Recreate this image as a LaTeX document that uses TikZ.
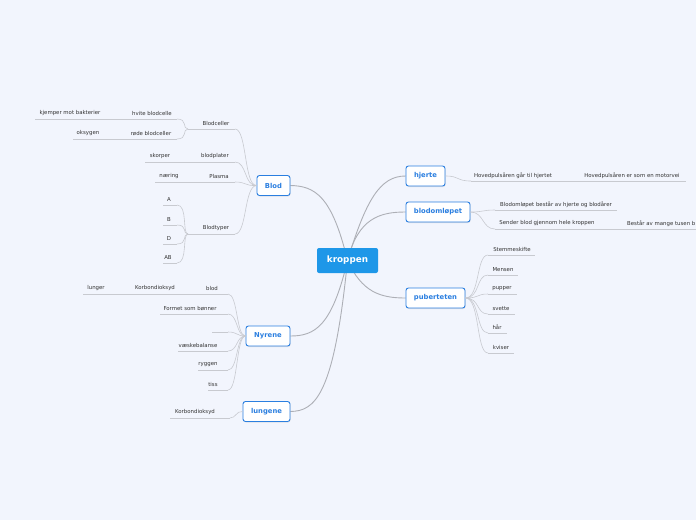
\documentclass[tikz,border=0pt]{standalone}
\usepackage{fontspec}
\setmainfont{DejaVu Sans}
\usetikzlibrary{shadows,backgrounds}
\definecolor{bg}{HTML}{F2F5FD}
\definecolor{mblue}{HTML}{2B7FE0}
\definecolor{cfill}{HTML}{1E97E8}
\definecolor{lnc}{HTML}{C8CAD0}
\definecolor{mln}{HTML}{ADAFB6}
\definecolor{txt}{HTML}{333333}
\newcommand\subtopic[6]{%
  \node[lbl] (#1) at (#2,{#3-5.5}) {#6};
  \coordinate (#1-l) at (#4,#3);
  \coordinate (#1-r) at (#5,#3);
  \draw[uline] (#1-l) -- (#1-r);}
\begin{document}
\begin{tikzpicture}[x=1pt,y=-1pt,
  lbl/.style={font=\fontsize{5.4}{6}\selectfont, text=txt, inner sep=0pt},
  uline/.style={draw=lnc, line width=0.6pt},
  conn/.style={draw=lnc, line width=0.6pt},
  mconn/.style={draw=mln, line width=0.9pt},
  mainnode/.style={draw=mblue, line width=0.9pt, fill=white, rounded corners=2.5pt,
    text=mblue, font=\bfseries\fontsize{6.8}{8}\selectfont, minimum height=20pt,
    inner sep=0pt, drop shadow={opacity=0.18, shadow xshift=0.6pt, shadow yshift=-1pt}},
  centernode/.style={fill=cfill, rounded corners=2pt, text=white,
    font=\bfseries\fontsize{8.8}{10}\selectfont, minimum width=61pt, minimum height=25pt, inner sep=0pt}]
\useasboundingbox (0,0) rectangle (696,520);
\begin{scope}[on background layer]
\fill[bg] (0,0) rectangle (696,520);
\end{scope}
% main nodes
\node[centernode] (k) at (347.5,260.5) {kroppen};
\node[mainnode, minimum width=33pt] (blod) at (273.5,185.5) {Blod};
\node[mainnode, minimum width=44pt] (nyr) at (268,336) {Nyrene};
\node[mainnode, minimum width=47pt] (lun) at (266.5,411.5) {lungene};
\node[mainnode, minimum width=39pt] (hj) at (425.5,176) {hjerte};
\node[mainnode, minimum width=64pt] (bo) at (438,212) {blodomløpet};
\node[mainnode, minimum width=59pt] (pub) at (435.5,298) {puberteten};
\begin{scope}[on background layer]
\draw[mconn] (k.center) .. controls (366,200) and (380,176) .. (hj.west);
\draw[mconn] (k.center) .. controls (358,218) and (380,212) .. (bo.west);
\draw[mconn] (k.center) .. controls (362,292) and (380,298) .. (pub.west);
\draw[mconn] (k.center) .. controls (332,196) and (315,186) .. (blod.east);
\draw[mconn] (k.center) .. controls (332,326) and (315,336) .. (nyr.east);
\draw[mconn] (k.center) .. controls (334,396) and (315,411) .. (lun.east);
\end{scope}
% hjerte
\subtopic{h1}{513}{181}{471}{560}{Hovedpulsåren går til hjertet}
\subtopic{h2}{632}{181}{560}{686}{Hovedpulsåren er som en motorvei}
\draw[conn] (hj.east) .. controls (460,176) and (456,181) .. (h1-l);
\draw[conn] (h1-r) -- (h2-l);
% blodomlopet
\subtopic{b1}{556}{210}{495}{617}{Blodomløpet består av hjerte og blodårer}
\subtopic{b2}{547}{229}{495}{625}{Sender blod gjennom hele kroppen}
\node[lbl, anchor=west] (b3) at (627,{229-5.5}) {Består av mange tusen b};
\coordinate (b3-l) at (625,229);
\coordinate (b3-r) at (696,229);
\draw[uline] (b3-l) -- (b3-r);
\draw[conn] (b2-r) -- (b3-l);
\draw[conn] (bo.east) .. controls (484,212) and (482,210) .. (b1-l);
\draw[conn] (bo.east) .. controls (484,212) and (482,229) .. (b2-l);
% puberteten
\subtopic{p1}{512}{255}{488}{535}{Stemmeskifte}
\subtopic{p2}{503}{275}{488}{518}{Mensen}
\subtopic{p3}{502}{294}{488}{517}{pupper}
\subtopic{p4}{501}{314}{488}{515}{svette}
\subtopic{p5}{497}{333}{488}{507}{hår}
\subtopic{p6}{501}{353}{488}{514}{kviser}
\foreach \c in {p1,p2,p3,p4,p5,p6}{
  \draw[conn] (pub.east) .. controls (480,298) and (476,0|-\c-l) .. (\c-l);}
% Blod
\subtopic{bc}{216}{129}{188}{235}{Blodceller}
\subtopic{bp}{215}{162}{198}{235}{blodplater}
\subtopic{pl}{219}{182}{198}{235}{Plasma}
\subtopic{bt}{216}{234}{188}{235}{Blodtyper}
\foreach \c in {bc,bp,pl,bt}{
  \draw[conn] (blod.west) .. controls (244,186) and (247,0|-\c-r) .. (\c-r);}
\subtopic{hv}{152}{119}{128}{177}{hvite blodcelle}
\subtopic{kj}{70}{119}{35}{128}{kjemper mot bakterier}
\subtopic{rb}{151}{139}{128}{177}{røde blodceller}
\subtopic{ok}{88}{139}{73}{128}{oksygen}
\draw[conn] (bc-l) .. controls (182,129) and (188,119) .. (hv-r);
\draw[conn] (bc-l) .. controls (182,129) and (188,139) .. (rb-r);
\draw[conn] (hv-l) -- (kj-r);
\draw[conn] (rb-l) -- (ok-r);
\subtopic{sk}{160}{162}{145}{198}{skorper}
\draw[conn] (bp-l) -- (sk-r);
\subtopic{na}{169}{182}{155}{198}{næring}
\draw[conn] (pl-l) -- (na-r);
\subtopic{ta}{169}{205}{163}{177}{A}
\subtopic{tb}{169}{225}{163}{177}{B}
\subtopic{td}{169}{244}{163}{177}{D}
\subtopic{tab}{168}{263}{163}{177}{AB}
\foreach \c in {ta,tb,td,tab}{
  \draw[conn] (bt-l) .. controls (182,234) and (188,0|-\c-r) .. (\c-r);}
% Nyrene
\subtopic{n1}{212}{294}{198}{228}{blod}
\subtopic{n1a}{155}{294}{130}{198}{Korbondioksyd}
\subtopic{n1b}{96}{294}{83}{130}{lunger}
\draw[conn] (n1-l) -- (n1a-r);
\draw[conn] (n1a-l) -- (n1b-r);
\subtopic{n2}{190}{314}{160}{228}{Formet som bønner}
\subtopic{n3}{220}{332}{212}{228}{}
\subtopic{n4}{198}{351}{178}{228}{væskebalanse}
\subtopic{n5}{208}{370}{198}{228}{ryggen}
\subtopic{n6}{213}{390}{208}{228}{tiss}
\foreach \c in {n1,n2,n3,n4,n5,n6}{
  \draw[conn] (nyr.west) .. controls (236,336) and (238,0|-\c-r) .. (\c-r);}
% lungene
\subtopic{l1}{195}{418}{170}{230}{Korbondioksyd}
\draw[conn] (lun.west) .. controls (236,411) and (236,418) .. (l1-r);
\end{tikzpicture}
\end{document}
